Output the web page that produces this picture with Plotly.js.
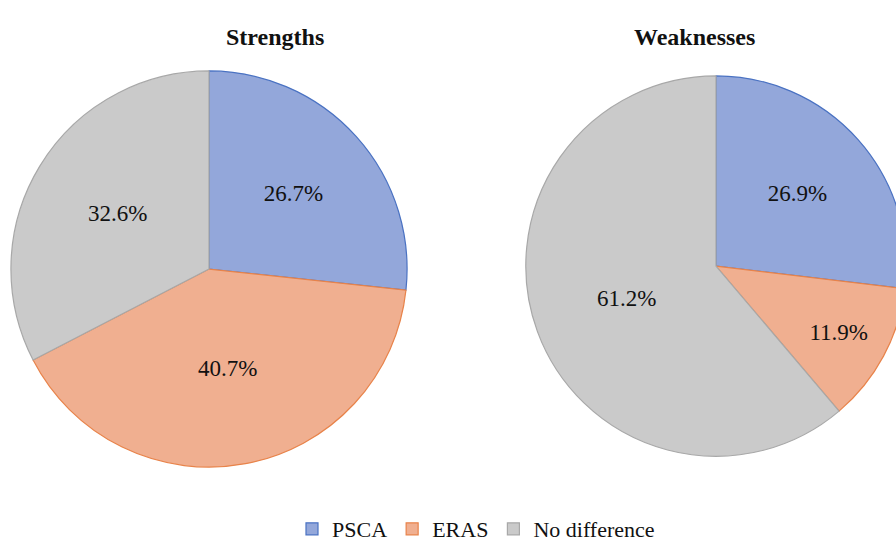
<!DOCTYPE html>
<html>
<head>
<meta charset="utf-8">
<script src="https://cdn.plot.ly/plotly-3.0.1.min.js"></script>
<style>
  html, body { margin: 0; padding: 0; background: #fff; font-family: 'Liberation Serif', serif; }
  #frame { width: 896px; height: 550px; overflow: hidden; position: relative; }
  #chart { width: 920px; height: 550px; }
</style>
</head>
<body>
<div id="frame"><div id="chart"></div></div>
<script>
// Share of responses per group
const categories = ['PSCA', 'ERAS', 'No difference'];
const strengths = [26.7, 40.7, 32.6];
const weaknesses = [26.9, 11.9, 61.2];
const panelTitles = ['Strengths', 'Weaknesses'];

const fillColors = ['#93A7DA', '#F0AF90', '#CACACA'];
const edgeColors = ['#4A72C2', '#E8834A', '#A8A8A8'];
const serifFamily = 'Liberation Serif, serif';

function pieTrace(values, domain, showLegend) {
  return {
    type: 'pie',
    labels: categories,
    values: values,
    sort: false,
    direction: 'clockwise',
    rotation: 0,
    domain: domain,
    marker: { colors: fillColors, line: { color: edgeColors, width: 1.2 } },
    texttemplate: '%{value:.1f}%',
    textposition: 'inside',
    insidetextorientation: 'horizontal',
    textfont: { family: serifFamily, size: 23, color: '#111' },
    hoverinfo: 'label+value',
    showlegend: showLegend
  };
}

// Figure is a little wider than the frame so the right pie runs off the edge
const W = 920, H = 550;
const data = [
  pieTrace(strengths, { x: [8 / W, 410 / W], y: [1 - 474 / H, 1 - 72 / H] }, true),
  pieTrace(weaknesses, { x: [523 / W, 909 / W], y: [1 - 463 / H, 1 - 77 / H] }, false)
];

const layout = {
  width: W,
  height: H,
  margin: { l: 0, r: 0, t: 0, b: 0 },
  paper_bgcolor: '#ffffff',
  font: { family: serifFamily, color: '#111' },
  showlegend: true,
  legend: {
    orientation: 'h',
    x: 476 / W,
    xanchor: 'center',
    y: 1 - 537 / H,
    yanchor: 'middle',
    font: { family: serifFamily, size: 22, color: '#111' },
    itemwidth: 30,
    traceorder: 'normal'
  },
  annotations: [
    { text: '<b>' + panelTitles[0] + '</b>', x: 224 / W, y: 1 - 22 / H, xref: 'paper', yref: 'paper',
      showarrow: false, font: { family: serifFamily, size: 24, color: '#111' } },
    { text: '<b>' + panelTitles[1] + '</b>', x: 757 / W, y: 1 - 22 / H, xref: 'paper', yref: 'paper',
      showarrow: false, font: { family: serifFamily, size: 24, color: '#111' } }
  ]
};

// Make sure the serif face is ready before Plotly measures any text
const fontReady = (document.fonts && document.fonts.load)
  ? Promise.all([
      document.fonts.load('22px "Liberation Serif"'),
      document.fonts.load('bold 24px "Liberation Serif"')
    ]).catch(() => null)
  : Promise.resolve();

fontReady.then(() => Plotly.newPlot('chart', data, layout, { displayModeBar: false }));
</script>
</body>
</html>
